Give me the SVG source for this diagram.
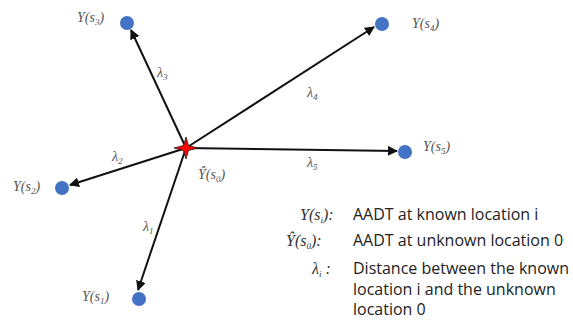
<svg xmlns="http://www.w3.org/2000/svg" width="573" height="320" viewBox="0 0 573 320">
<style>
.m{font-family:"Liberation Serif","DejaVu Serif",serif;font-style:italic;font-size:14px;fill:#555}
.l{font-size:16px;fill:#333}
.sub{font-size:9px}
.t{font-family:"Open Sans","Liberation Sans",sans-serif;font-size:16px;fill:#222}
.c{stroke:#111;stroke-width:2;fill:none;marker-end:url(#ah)}
.n{fill:#4472C4}
</style>
<defs>
<marker id="ah" viewBox="0 0 10 10" refX="9" refY="5" markerWidth="10" markerHeight="10" markerUnits="userSpaceOnUse" orient="auto">
<path d="M0,0 L10,5 L0,10 z" fill="#111"/>
</marker>
</defs>
<rect width="573" height="320" fill="#fff"/>
<g id="connectors">
<line class="c" x1="186" y1="148" x2="131" y2="30"/>
<line class="c" x1="186" y1="148" x2="374" y2="27"/>
<line class="c" x1="186" y1="148" x2="397" y2="151"/>
<line class="c" x1="186" y1="148" x2="70" y2="185"/>
<line class="c" x1="186" y1="148" x2="138" y2="290"/>
<text class="m" x="157" y="77">λ<tspan class="sub" dy="3">3</tspan></text>
<text class="m" x="112" y="161">λ<tspan class="sub" dy="3">2</tspan></text>
<text class="m" x="307" y="97">λ<tspan class="sub" dy="3">4</tspan></text>
<text class="m" x="307" y="167">λ<tspan class="sub" dy="3">5</tspan></text>
<text class="m" x="143" y="231">λ<tspan class="sub" dy="3">1</tspan></text>
</g>
<g id="s0">
<path d="M186,137 L188.5,145.5 L198,148 L188.5,150.5 L186,159 L183.5,150.5 L174,148 L183.5,145.5 Z" fill="#FF0000" stroke="#222" stroke-width="0.8"/>
<text class="m" x="198" y="179">Ŷ(s<tspan class="sub" dy="3">0</tspan><tspan dy="-3">)</tspan></text>
</g>
<g id="s3">
<circle class="n" cx="127" cy="23" r="7"/>
<text class="m" x="77" y="22">Y(s<tspan class="sub" dy="3">3</tspan><tspan dy="-3">)</tspan></text>
</g>
<g id="s4">
<circle class="n" cx="382" cy="24" r="7"/>
<text class="m" x="412" y="28">Y(s<tspan class="sub" dy="3">4</tspan><tspan dy="-3">)</tspan></text>
</g>
<g id="s5">
<circle class="n" cx="405" cy="152" r="7"/>
<text class="m" x="423" y="151">Y(s<tspan class="sub" dy="3">5</tspan><tspan dy="-3">)</tspan></text>
</g>
<g id="s2">
<circle class="n" cx="62" cy="188" r="7"/>
<text class="m" x="13" y="191">Y(s<tspan class="sub" dy="3">2</tspan><tspan dy="-3">)</tspan></text>
</g>
<g id="s1">
<circle class="n" cx="139" cy="299" r="7"/>
<text class="m" x="82" y="301">Y(s<tspan class="sub" dy="3">1</tspan><tspan dy="-3">)</tspan></text>
</g>
<g id="legend">
<text class="m l" x="300" y="220">Y(s<tspan class="sub" dy="3">i</tspan><tspan dy="-3">):</tspan></text>
<text class="t" x="353" y="220">AADT at known location i</text>
<text class="m l" x="286" y="246">Ŷ(s<tspan class="sub" dy="3">0</tspan><tspan dy="-3">):</tspan></text>
<text class="t" x="353" y="246">AADT at unknown location 0</text>
<text class="m l" x="312" y="274">λ<tspan class="sub" dy="3">i</tspan><tspan dy="-3"> :</tspan></text>
<text class="t" x="353" y="274">Distance between the known</text>
<text class="t" x="353" y="294.5">location i and the unknown</text>
<text class="t" x="353" y="315">location 0</text>
</g>
</svg>
